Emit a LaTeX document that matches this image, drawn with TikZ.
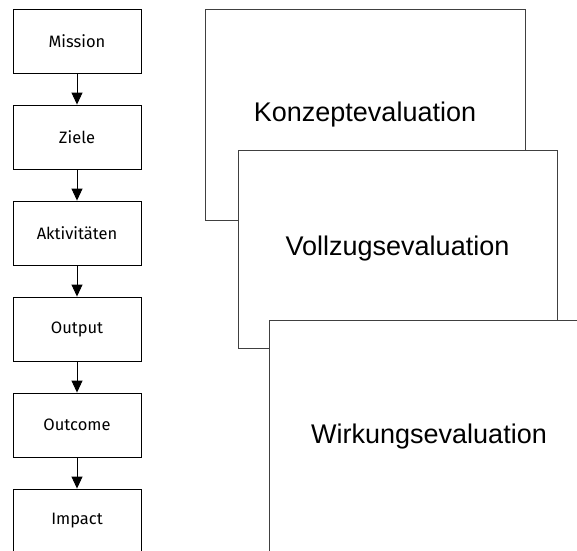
\documentclass[tikz,border=0pt]{standalone}
\usepackage{fontspec}
\setmainfont{Liberation Sans}
\newfontfamily\leftfont{Fira Sans}
\usetikzlibrary{arrows.meta}
\tikzset{
  stepbox/.style={draw=black, line width=0.9pt, fill=white, minimum width=128pt, minimum height=64pt, inner sep=0pt, font=\leftfont\fontsize{16.5}{19}\selectfont},
  evalbox/.style={draw=black!75, line width=0.8pt, fill=white, inner sep=0pt, font=\fontsize{27}{32}\selectfont},
  flow/.style={line width=0.9pt, -{Triangle[width=11pt,length=12pt]}}
}
\begin{document}
\begin{tikzpicture}[x=1pt,y=-1pt]
\useasboundingbox (0,0) rectangle (577,550);
\clip (0,0) rectangle (577,550);
\fill[white] (0,0) rectangle (577,550);
\node[stepbox] (mission) at (77,41) {Mission};
\node[stepbox] (ziele) at (77,137) {Ziele};
\node[stepbox] (akt) at (77,233) {Aktivitäten};
\node[stepbox] (output) at (77,329) {Output};
\node[stepbox] (outcome) at (77,425) {Outcome};
\node[stepbox] (impact) at (77,521) {Impact};
\draw[flow] (mission) -- (ziele);
\draw[flow] (ziele) -- (akt);
\draw[flow] (akt) -- (output);
\draw[flow] (output) -- (outcome);
\draw[flow] (outcome) -- (impact);
\node[evalbox, minimum width=320pt, minimum height=211pt] (konzept) at (365,114.5) {Konzeptevaluation};
\node[evalbox, minimum width=319pt, minimum height=198pt] (vollzug) at (397.5,249) {Vollzugsevaluation};
\node[evalbox, minimum width=320pt, minimum height=234pt] (wirkung) at (429,437) {Wirkungsevaluation};
\end{tikzpicture}
\end{document}
